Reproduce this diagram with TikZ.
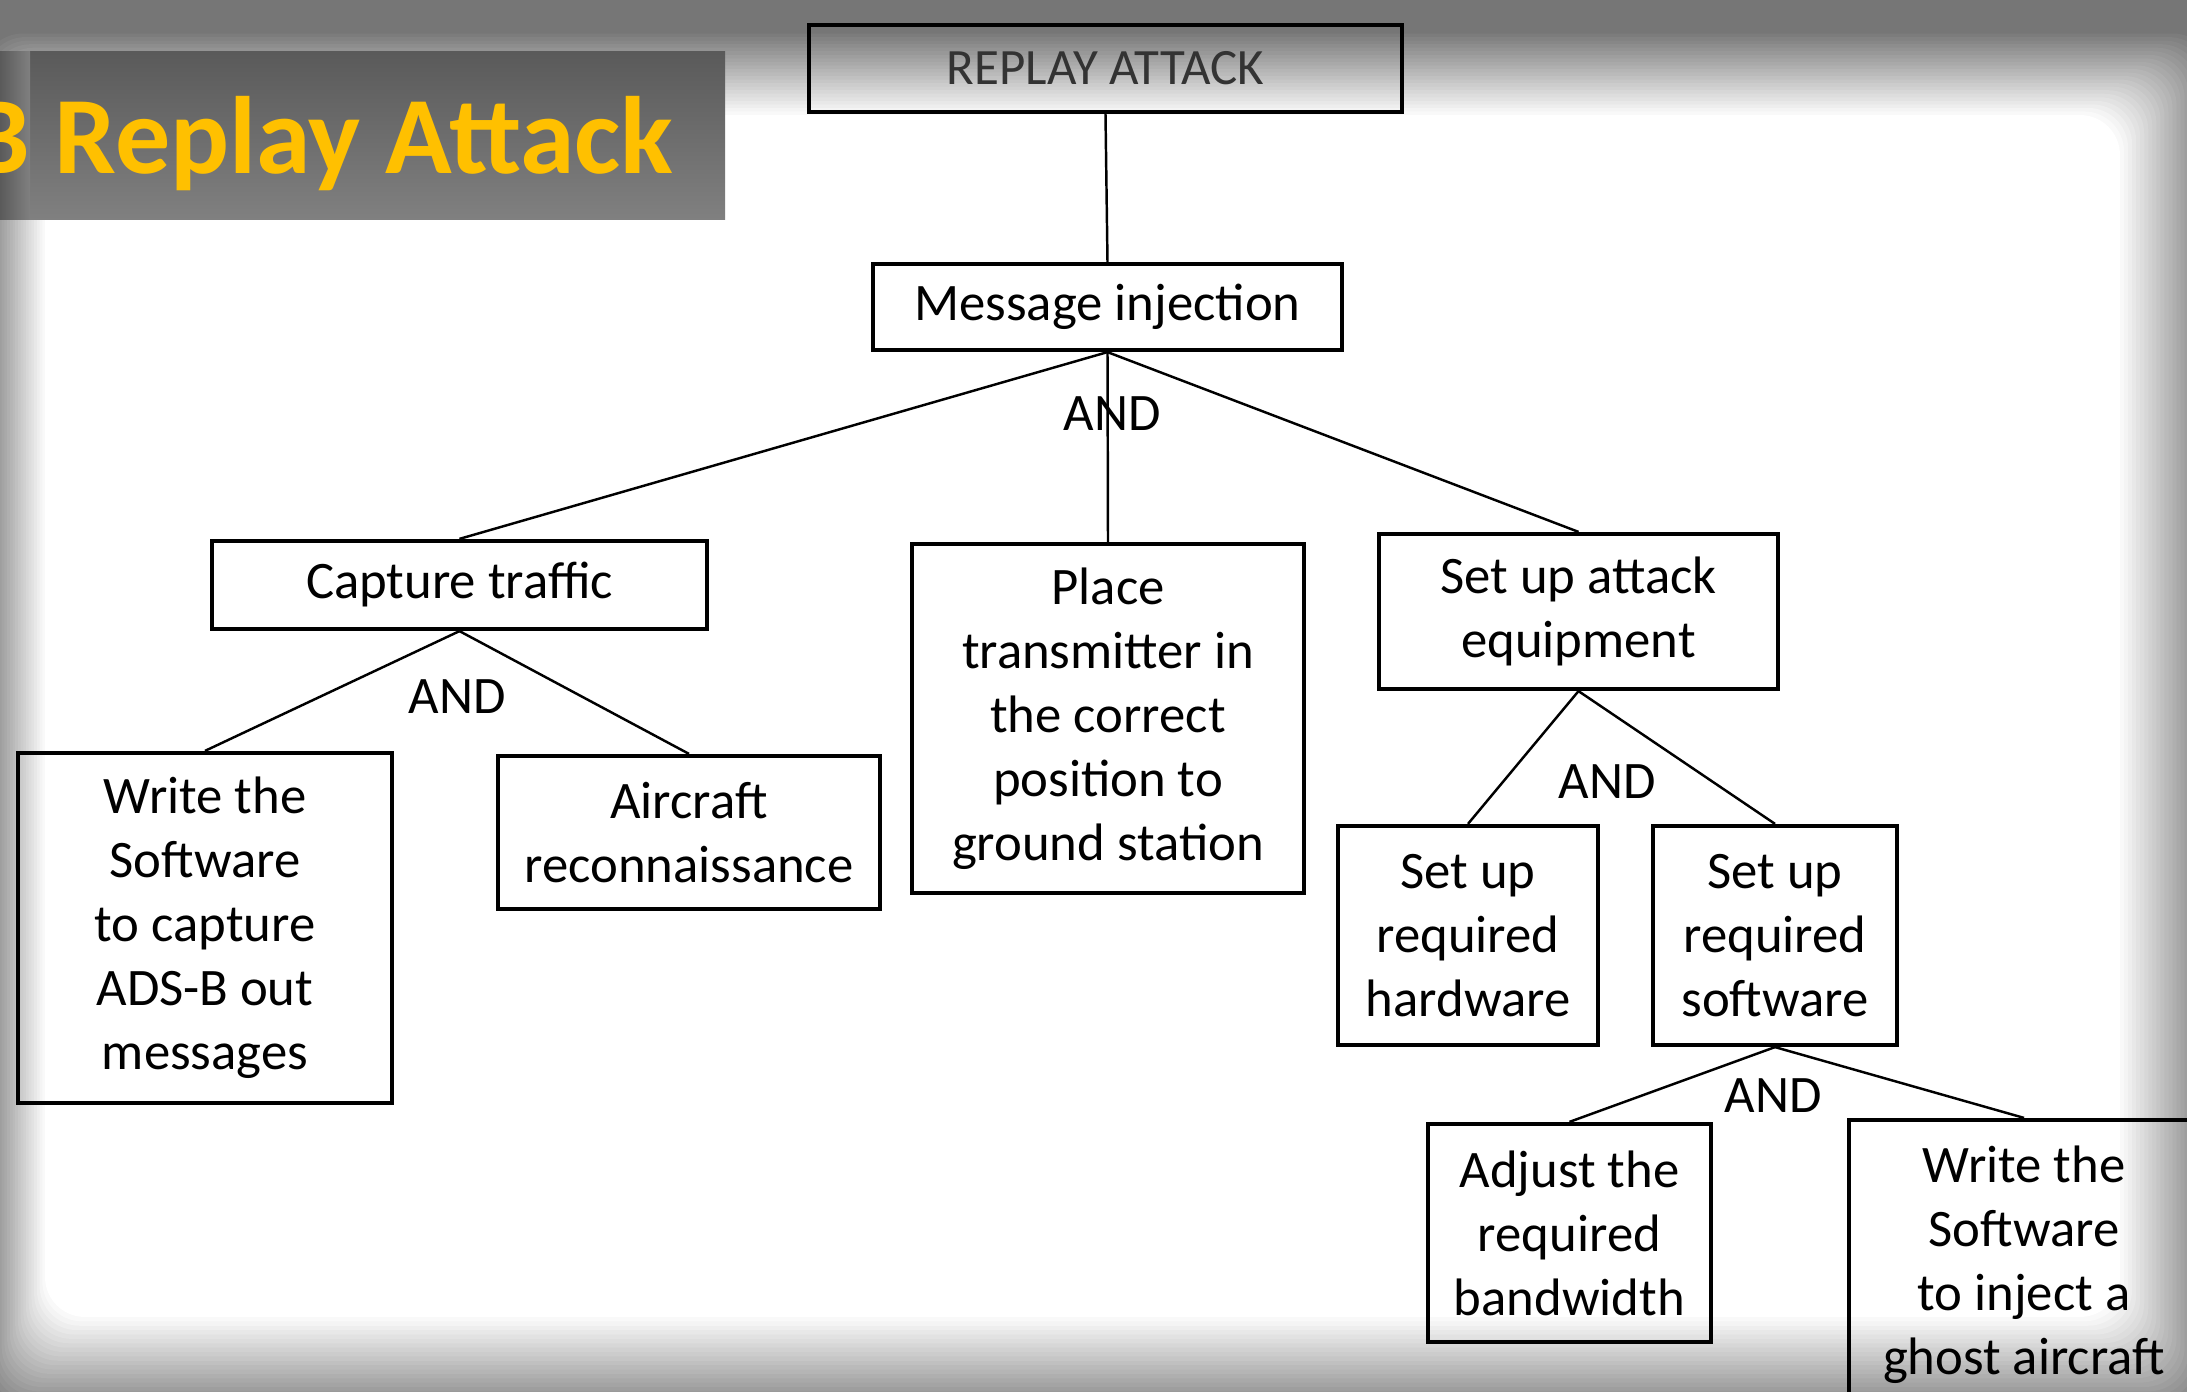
\documentclass[tikz,border=0pt]{standalone}
\usepackage{fontspec}
\setmainfont{Carlito}
\usetikzlibrary{positioning}
\definecolor{slidegray}{HTML}{767676}
\definecolor{bannergray}{HTML}{808080}
\definecolor{bannerdark}{HTML}{5A5A5A}
\definecolor{titlegold}{HTML}{FFC000}

\begin{document}
\begin{tikzpicture}[
  every node/.style={font=\fontsize{15}{18.2}\selectfont},
  box/.style={draw,line width=1.2pt,align=center,inner sep=2pt},
  link/.style={line width=0.7pt},
  andlbl/.style={inner sep=1pt}
]
\useasboundingbox (0,0) rectangle (21.87,-13.92);
\clip (0,0) rectangle (21.87,-13.92);
% slide frame with soft shadow
\fill[slidegray] (0,0) rectangle (21.87,-13.92);
\foreach \i in {0,...,24}{
  \pgfmathsetmacro{\t}{\i/24}
  \pgfmathsetmacro{\p}{100*(1-\t)}
  \fill[slidegray!\p!white,rounded corners=0.4cm] ({-0.2+0.65*\t},{-0.3-0.85*\t}) rectangle ({22.17-0.97*\t},{-14.22+1.05*\t});
}

% attack tree
\node[box,text=black!80,font=\fontsize{14.5}{18}\selectfont,minimum width=5.93cm,minimum height=0.87cm] (rep) at (11.055,-0.685) {REPLAY ATTACK};
\node[box,minimum width=4.69cm,minimum height=0.86cm] (msg) at (11.075,-3.07) {Message injection};
\node[box,minimum width=4.95cm,minimum height=0.88cm] (cap) at (4.595,-5.85) {Capture traffic};
\node[box,minimum width=3.92cm,minimum height=3.49cm] (place) at (11.08,-7.185) {Place\\transmitter in\\the correct\\position to\\ground station};
\node[box,minimum width=3.99cm,minimum height=1.55cm] (equip) at (15.785,-6.115) {Set up attack\\equipment};
\node[box,minimum width=3.74cm,minimum height=3.5cm] (wcap) at (2.05,-9.28) {Write the\\Software\\to capture\\ADS-B out\\messages};
\node[box,minimum width=3.82cm,minimum height=1.53cm] (recon) at (6.89,-8.325) {Aircraft\\reconnaissance};
\node[box,minimum width=2.6cm,minimum height=2.19cm] (hw) at (14.68,-9.355) {Set up\\required\\hardware};
\node[box,minimum width=2.44cm,minimum height=2.19cm] (sw) at (17.75,-9.355) {Set up\\required\\software};
\node[box,minimum width=2.83cm,minimum height=2.18cm] (bw) at (15.695,-12.33) {Adjust the\\required\\bandwidth};
\node[box,minimum width=3.5cm,minimum height=2.9cm] (ghost) at (20.24,-12.65) {Write the\\Software\\to inject a\\ghost aircraft};

\foreach \u/\v in {rep/msg,msg/cap,msg/place,msg/equip,cap/wcap,cap/recon,equip/hw,equip/sw,sw/bw,sw/ghost} \draw[link] (\u.south) -- (\v.north);

\node[andlbl] (and1) at (11.12,-4.14) {AND};
\node[andlbl] (and2) at (4.57,-6.97) {AND};
\node[andlbl] (and3) at (16.07,-7.82) {AND};
\node[andlbl] (and4) at (17.73,-10.96) {AND};

% title banner
\shade[top color=bannerdark,middle color=bannergray,bottom color=bannergray] (0,-0.52) rectangle (7.25,-2.2);
\shade[left color=bannerdark,right color=bannergray] (0,-0.52) rectangle (0.3,-2.2);
\node[anchor=base east,inner sep=0,text=titlegold,font=\bfseries\fontsize{31.3}{37}\selectfont] (title) at (6.74,-1.74) {B Replay Attack};
\end{tikzpicture}
\end{document}
